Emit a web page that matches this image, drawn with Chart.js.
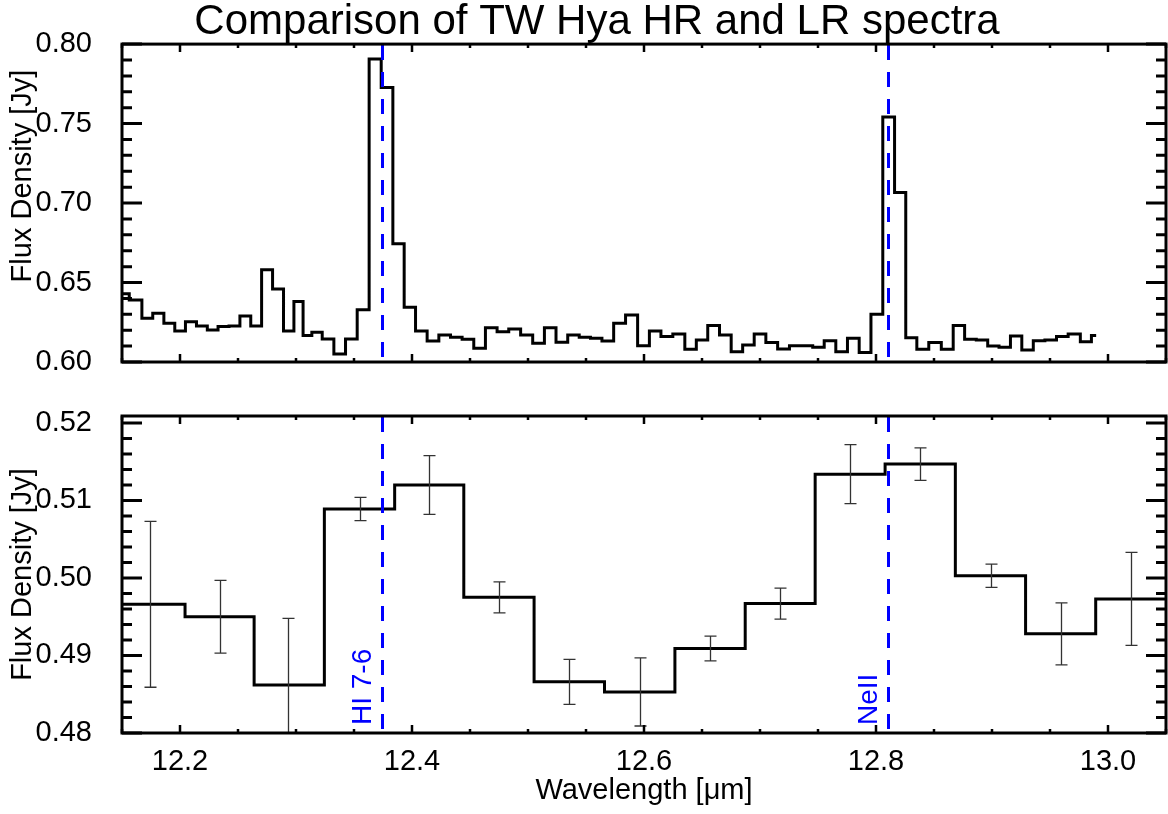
<!DOCTYPE html>
<html>
<head>
<meta charset="utf-8">
<script src="https://cdn.jsdelivr.net/npm/chart.js@4"></script>
<style>
  html, body { margin: 0; padding: 0; background: #fff; }
  #wrap { position: relative; width: 1168px; height: 814px; }
  canvas { position: absolute; left: 0; }
</style>
</head>
<body>
<div id="wrap">
  <canvas id="top" width="1168" height="380" style="top:0"></canvas>
  <canvas id="bottom" width="1168" height="434" style="top:380px"></canvas>
</div>
<script>
// ---------------- DATA ----------------
const chartTitle = 'Comparison of TW Hya HR and LR spectra';
const xAxisTitle = 'Wavelength [\u03BCm]';
const yAxisTitle = 'Flux Density [Jy]';

// High-resolution spectrum (bin centre wavelength, micron) and flux (Jy)
const hrWavelength = [
  12.150, 12.1625, 12.1718, 12.1812, 12.1910, 12.2000, 12.2094, 12.2190, 12.2281, 12.2375,
  12.2470, 12.2563, 12.2657, 12.2750, 12.2846, 12.2939, 12.3025, 12.3097, 12.3176, 12.3276,
  12.3377, 12.3477, 12.3578, 12.3683, 12.3786, 12.3884, 12.3981, 12.4080, 12.4181, 12.4282,
  12.4382, 12.4482, 12.4583, 12.4683, 12.4784, 12.4884, 12.4989, 12.5092, 12.5191, 12.5292,
  12.5393, 12.5490, 12.5587, 12.5688, 12.5789, 12.5893, 12.5997, 12.6096, 12.6196, 12.6301,
  12.6403, 12.6499, 12.6600, 12.6702, 12.6801, 12.6900, 12.7000, 12.7101, 12.7203, 12.7305,
  12.7405, 12.7504, 12.7603, 12.7704, 12.7804, 12.7906, 12.8007, 12.8110, 12.8210, 12.8303,
  12.8401, 12.8509, 12.8617, 12.8714, 12.8814, 12.8915, 12.9011, 12.9110, 12.9208, 12.9306,
  12.9406, 12.9506, 12.9606, 12.9707, 12.9816, 12.9898
];
const hrFlux = [
  0.643, 0.639, 0.6275, 0.6307, 0.6244, 0.6195, 0.6254, 0.6227, 0.6202, 0.6223,
  0.6227, 0.629, 0.6227, 0.658, 0.646, 0.6195, 0.638, 0.6166, 0.6187, 0.6145,
  0.605, 0.6145, 0.6328, 0.7907, 0.7727, 0.6744, 0.6345, 0.6195, 0.6132, 0.617,
  0.6156, 0.6143, 0.6086, 0.6216, 0.6191, 0.6208, 0.617, 0.6118, 0.6216, 0.6124,
  0.617, 0.6156, 0.615, 0.6132, 0.6244, 0.6296, 0.6103, 0.6195, 0.616, 0.6176,
  0.608, 0.6139, 0.6229, 0.617, 0.6065, 0.6107, 0.6176, 0.6122, 0.6082, 0.6103,
  0.6103, 0.6093, 0.6134, 0.6065, 0.615, 0.6059, 0.630, 0.7542, 0.7067, 0.6153,
  0.608, 0.6122, 0.608, 0.6229, 0.6143, 0.6139, 0.6101, 0.6093, 0.6164, 0.6076,
  0.6134, 0.6139, 0.616, 0.6176, 0.6128, 0.6166
];

// Low-resolution spectrum with 1-sigma errors
const lrWavelength = [12.1742, 12.2345, 12.2933, 12.3556, 12.4145, 12.4748, 12.5357, 12.5962,
                      12.6571, 12.7174, 12.7777, 12.8380, 12.8988, 12.9591, 13.0197];
const lrFlux = [0.4966, 0.4950, 0.4862, 0.5089, 0.5120, 0.4975, 0.4866, 0.4853,
                0.4909, 0.4967, 0.5134, 0.5147, 0.5003, 0.4928, 0.4973];
const lrError = [0.0107, 0.0047, 0.0086, 0.0015, 0.0038, 0.0020, 0.0029, 0.0044,
                 0.0016, 0.0020, 0.0038, 0.0021, 0.0015, 0.0040, 0.0060];

// Line identifications
const lineNames = ['HI 7-6', 'NeII'];
const lineWavelength = [12.374, 12.810];

// Axes
const xRange = [12.15, 13.05];
const xTickValues = [12.2, 12.4, 12.6, 12.8, 13.0];
const xTickLabels = ['12.2', '12.4', '12.6', '12.8', '13.0'];
const topYRange = [0.60, 0.80];
const topYTickValues = [0.60, 0.65, 0.70, 0.75, 0.80];
const topYTickLabels = ['0.60', '0.65', '0.70', '0.75', '0.80'];
const botYRange = [0.48, 0.5209];
const botYTickValues = [0.48, 0.49, 0.50, 0.51, 0.52];
const botYTickLabels = ['0.48', '0.49', '0.50', '0.51', '0.52'];

// ---------------- STYLE ----------------
const FONT = '"Liberation Sans", Arial, Helvetica, sans-serif';
Chart.defaults.font.family = FONT;
Chart.defaults.color = '#000';
const LEFT_PAD = 28;      // shifts the (full-width) title so it centres like the original
const AXIS_W = 122 - LEFT_PAD;

function frameTicksPlugin(cfg) {
  return {
    id: 'frameTicks',
    afterDatasetsDraw(chart) {
      const { ctx, chartArea: a, scales: { x, y } } = chart;
      ctx.save();
      // dashed line markers
      ctx.strokeStyle = '#0000ff';
      ctx.lineWidth = 3;
      ctx.setLineDash([15, 12]);
      lineWavelength.forEach(w => {
        const px = Math.round(x.getPixelForValue(w)) + 0.5;
        ctx.beginPath();
        ctx.moveTo(px, a.top + 1);
        ctx.lineTo(px, a.bottom);
        ctx.stroke();
      });
      ctx.setLineDash([]);
      // frame
      ctx.strokeStyle = '#000';
      ctx.lineWidth = 3;
      ctx.strokeRect(a.left, a.top, a.right - a.left, a.bottom - a.top);
      // x ticks
      ctx.lineWidth = 2.5;
      const xs = 0.05, xm = 0.2;
      for (let k = Math.ceil(x.min / xs - 1e-9); k * xs <= x.max + 1e-9; k++) {
        const v = k * xs;
        const major = Math.abs(v / xm - Math.round(v / xm)) < 1e-6;
        const L = major ? 8 : 4;
        const px = x.getPixelForValue(v);
        ctx.beginPath();
        ctx.moveTo(px, a.bottom); ctx.lineTo(px, a.bottom - L);
        ctx.moveTo(px, a.top); ctx.lineTo(px, a.top + L);
        ctx.stroke();
      }
      // y ticks
      ctx.lineWidth = 3;
      const ys = cfg.yMinor, ym = cfg.yMajor;
      for (let k = Math.ceil(y.min / ys - 1e-9); k * ys <= y.max + 1e-9; k++) {
        const v = k * ys;
        const major = Math.abs(v / ym - Math.round(v / ym)) < 1e-6;
        const L = major ? 20 : 10;
        const py = y.getPixelForValue(v);
        ctx.beginPath();
        ctx.moveTo(a.left, py); ctx.lineTo(a.left + L, py);
        ctx.moveTo(a.right, py); ctx.lineTo(a.right - L, py);
        ctx.stroke();
      }
      // y-axis title drawn here for the upper panel (sits above the panel centre there)
      if (cfg.yTitleShift !== undefined) {
        ctx.fillStyle = '#000';
        ctx.font = '29px ' + FONT;
        ctx.textAlign = 'center';
        ctx.textBaseline = 'middle';
        ctx.save();
        ctx.translate(23.4, (a.top + a.bottom) / 2 + cfg.yTitleShift);
        ctx.rotate(-Math.PI / 2);
        ctx.fillText(yAxisTitle, 0, 0);
        ctx.restore();
      }
      // line labels
      if (cfg.labels) {
        ctx.fillStyle = '#0000ff';
        ctx.font = '28px ' + FONT;
        ctx.textAlign = 'left';
        ctx.textBaseline = 'alphabetic';
        lineWavelength.forEach((w, i) => {
          const px = x.getPixelForValue(w);
          ctx.save();
          ctx.translate(px - 10.5, a.bottom - 8);
          ctx.rotate(-Math.PI / 2);
          ctx.fillText(lineNames[i], 0, 0);
          ctx.restore();
        });
      }
      ctx.restore();
    }
  };
}

const errorBarPlugin = {
  id: 'errorBars',
  afterDatasetsDraw(chart) {
    const { ctx, chartArea: a, scales: { x, y } } = chart;
    ctx.save();
    ctx.beginPath();
    ctx.rect(a.left, a.top, a.right - a.left, a.bottom - a.top);
    ctx.clip();
    ctx.strokeStyle = '#333';
    ctx.lineWidth = 1.3;
    lrWavelength.forEach((w, i) => {
      const px = Math.round(x.getPixelForValue(w)) + 0.5;
      const y1 = y.getPixelForValue(lrFlux[i] - lrError[i]);
      const y2 = y.getPixelForValue(lrFlux[i] + lrError[i]);
      ctx.beginPath();
      ctx.moveTo(px, y1); ctx.lineTo(px, y2);
      ctx.moveTo(px - 6, y1); ctx.lineTo(px + 6, y1);
      ctx.moveTo(px - 6, y2); ctx.lineTo(px + 6, y2);
      ctx.stroke();
    });
    ctx.restore();
  }
};

function yScale(range, values, labels, showTitle) {
  return {
    type: 'linear',
    min: range[0], max: range[1],
    afterBuildTicks: s => { s.ticks = values.map(v => ({ value: v })); },
    ticks: { callback: (v, i) => labels[i], font: { size: 29 }, color: '#000', padding: 30 },
    grid: { display: false, drawTicks: false },
    border: { display: false },
    title: { display: showTitle, text: yAxisTitle, font: { size: 29 }, color: '#000',
             padding: { top: 6 - LEFT_PAD, bottom: 0 } },
    afterFit: s => { s.width = AXIS_W; s.paddingTop = 0; s.paddingBottom = 0; }
  };
}

// ---------------- TOP PANEL ----------------
new Chart(document.getElementById('top'), {
  type: 'line',
  data: {
    datasets: [{
      data: hrWavelength.map((w, i) => ({ x: w, y: hrFlux[i] })),
      stepped: 'middle',
      borderColor: '#000', borderWidth: 3, pointRadius: 0, fill: false,
      borderJoinStyle: 'miter'
    }]
  },
  options: {
    responsive: false, animation: false,
    layout: { padding: { left: LEFT_PAD, right: 2, top: 0, bottom: 0 } },
    plugins: {
      legend: { display: false }, tooltip: { enabled: false },
      title: { display: true, text: chartTitle, color: '#000',
               font: { size: 42, weight: 'normal', lineHeight: 1.05 },
               padding: { top: 0, bottom: 0 } }
    },
    scales: {
      x: {
        type: 'linear', min: xRange[0], max: xRange[1],
        afterBuildTicks: s => { s.ticks = xTickValues.map(v => ({ value: v })); },
        ticks: { display: false },
        grid: { display: false, drawTicks: false },
        border: { display: false },
        afterFit: s => { s.height = 18; s.paddingLeft = 0; s.paddingRight = 0; s.paddingTop = 0; s.paddingBottom = 0; }
      },
      y: yScale(topYRange, topYTickValues, topYTickLabels, false)
    }
  },
  plugins: [frameTicksPlugin({ yMinor: 0.01, yMajor: 0.05, labels: false, yTitleShift: -27 })]
});

// ---------------- BOTTOM PANEL ----------------
const n = lrWavelength.length;
const lrSteps = [{ x: lrWavelength[0] - (lrWavelength[1] - lrWavelength[0]) / 2, y: lrFlux[0] }]
  .concat(lrWavelength.map((w, i) => ({ x: w, y: lrFlux[i] })))
  .concat([{ x: lrWavelength[n - 1] + (lrWavelength[n - 1] - lrWavelength[n - 2]) / 2, y: lrFlux[n - 1] }]);

new Chart(document.getElementById('bottom'), {
  type: 'line',
  data: {
    datasets: [{
      data: lrSteps,
      stepped: 'middle',
      borderColor: '#000', borderWidth: 3, pointRadius: 0, fill: false,
      borderJoinStyle: 'miter'
    }]
  },
  options: {
    responsive: false, animation: false,
    layout: { padding: { left: LEFT_PAD, right: 2, top: 36, bottom: 0 } },
    plugins: { legend: { display: false }, tooltip: { enabled: false }, title: { display: false } },
    scales: {
      x: {
        type: 'linear', min: xRange[0], max: xRange[1],
        afterBuildTicks: s => { s.ticks = xTickValues.map(v => ({ value: v })); },
        ticks: { callback: (v, i) => xTickLabels[i], font: { size: 29 }, color: '#000', padding: 12, maxRotation: 0 },
        grid: { display: false, drawTicks: false },
        border: { display: false },
        title: { display: true, text: xAxisTitle, font: { size: 29 }, color: '#000', padding: { top: 0, bottom: 6 } },
        afterFit: s => { s.height = 81; s.paddingLeft = 0; s.paddingRight = 0; s.paddingTop = 0; s.paddingBottom = 0; }
      },
      y: yScale(botYRange, botYTickValues, botYTickLabels, true)
    }
  },
  plugins: [errorBarPlugin, frameTicksPlugin({ yMinor: 0.002, yMajor: 0.01, labels: true })]
});
</script>
</body>
</html>
